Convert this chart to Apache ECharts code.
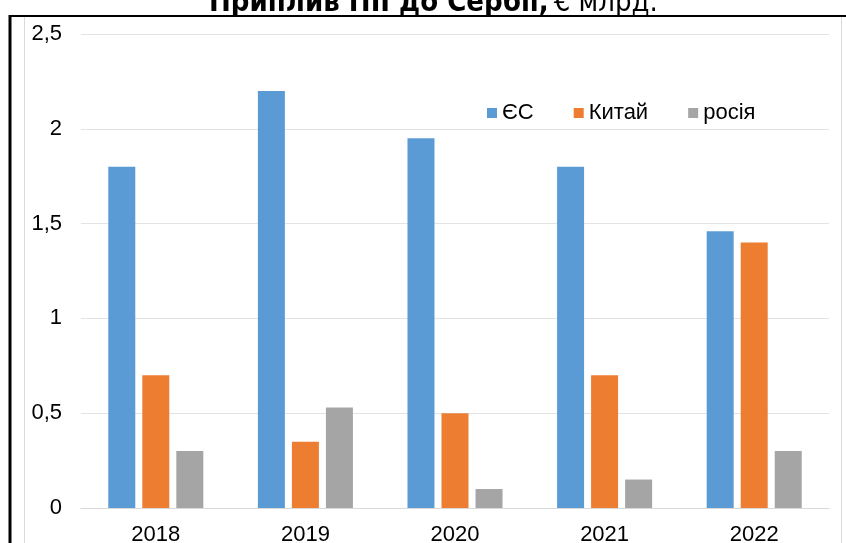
<!DOCTYPE html>
<html>
<head>
<meta charset="utf-8">
<script src="https://cdn.jsdelivr.net/npm/echarts@6/dist/echarts.min.js"></script>
<style>html,body{margin:0;padding:0;background:#fff}#c{width:846px;height:543px}</style>
</head>
<body>
<div id="c"></div>
<script>
const categories = ['2018', '2019', '2020', '2021', '2022'];
const seriesNames = ['ЄС', 'Китай', 'росія'];
const euValues = [1.8, 2.2, 1.95, 1.8, 1.46];
const chinaValues = [0.7, 0.35, 0.5, 0.7, 1.4];
const russiaValues = [0.3, 0.53, 0.1, 0.15, 0.3];
const yTicks = [0, 0.5, 1, 1.5, 2, 2.5];
const colors = ['#5B9BD5', '#ED7D31', '#A5A5A5'];

const chart = echarts.init(document.getElementById('c'), null, {renderer: 'canvas'});
const font = '"Liberation Sans", Arial, sans-serif';
const tfont = '"DejaVu Sans Condensed", "DejaVu Sans", sans-serif';
const mk = (name, data, i) => ({
  name: name, type: 'bar', data: data, barWidth: 27, barGap: '26%',
  itemStyle: {color: colors[i]}, emphasis: {disabled: true}
});
chart.setOption({
  animation: false,
  title: {
    text: '{b|Приплив ПІІ до Сербії,} {n|€ млрд.}',
    left: 204, top: -16,
    textStyle: {rich: {
      b: {fontFamily: tfont, fontWeight: 'bold', fontSize: 29, color: '#000'},
      n: {fontFamily: tfont, fontWeight: 'normal', fontSize: 29, color: '#000'}
    }}
  },
  legend: {
    data: seriesNames, left: 482, top: 97, itemWidth: 10, itemHeight: 10, itemGap: 40,
    icon: 'rect', textStyle: {fontFamily: font, fontSize: 22, color: '#000'}
  },
  grid: {left: 81, right: 17, top: 34, bottom: 35, containLabel: false, outerBoundsMode: 'none'},
  xAxis: {
    type: 'category', data: categories,
    axisLine: {lineStyle: {color: '#D9D9D9', width: 1}},
    axisTick: {show: false},
    axisLabel: {fontFamily: font, fontSize: 22, color: '#000', margin: 16}
  },
  yAxis: {
    type: 'value', min: yTicks[0], max: yTicks[yTicks.length - 1], interval: 0.5,
    axisLine: {show: false}, axisTick: {show: false},
    splitLine: {lineStyle: {color: '#E3E3E3', width: 1}},
    axisLabel: {fontFamily: font, fontSize: 22, color: '#000', margin: 19,
      formatter: v => String(v).replace('.', ',')}
  },
  graphic: [
    {type: 'line', shape: {x1: 24.5, y1: 17, x2: 24.5, y2: 543}, style: {stroke: '#D9D9D9', lineWidth: 1}, silent: true},
    {type: 'line', shape: {x1: 841.5, y1: 17, x2: 841.5, y2: 543}, style: {stroke: '#D9D9D9', lineWidth: 1}, silent: true},
    {type: 'line', shape: {x1: 9, y1: 16, x2: 846, y2: 16}, style: {stroke: '#000', lineWidth: 2}, silent: true},
    {type: 'line', shape: {x1: 10, y1: 15, x2: 10, y2: 543}, style: {stroke: '#000', lineWidth: 3}, silent: true}
  ],
  series: [mk(seriesNames[0], euValues, 0), mk(seriesNames[1], chinaValues, 1), mk(seriesNames[2], russiaValues, 2)]
});
</script>
</body>
</html>
